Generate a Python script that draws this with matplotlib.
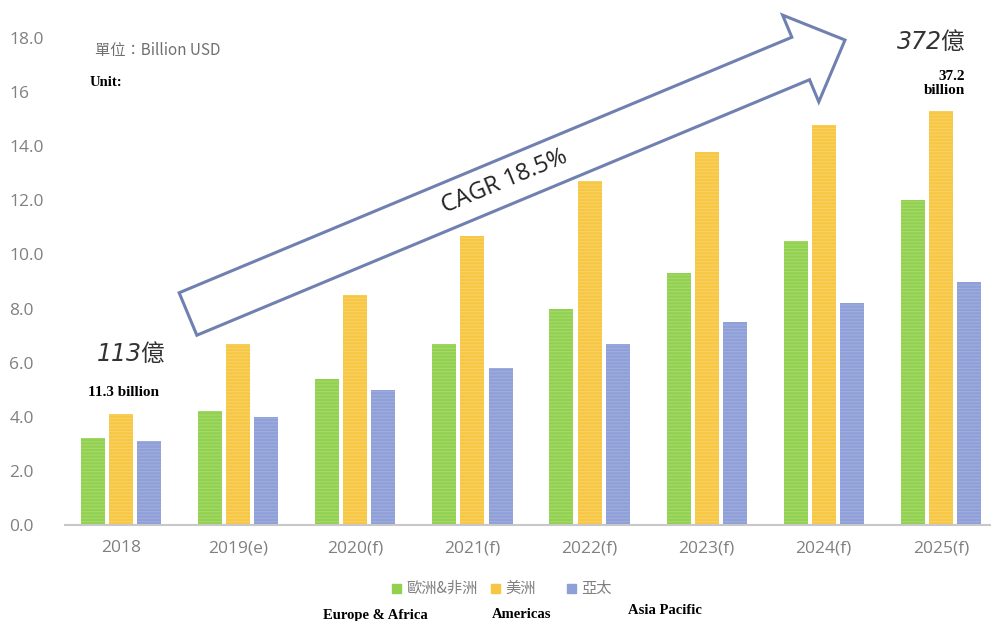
import numpy as np
import matplotlib.pyplot as plt
from matplotlib.patches import Polygon

plt.rcParams['font.family'] = ['Noto Sans CJK TC', 'DejaVu Sans']
plt.rcParams['hatch.linewidth'] = 0.8

# data
years = ["2018", "2019(e)", "2020(f)", "2021(f)", "2022(f)", "2023(f)", "2024(f)", "2025(f)"]
europe_africa = [3.2, 4.2, 5.4, 6.7, 8.0, 9.3, 10.5, 12.0]
americas = [4.1, 6.7, 8.5, 10.7, 12.7, 13.8, 14.8, 15.3]
asia_pacific = [3.1, 4.0, 5.0, 5.8, 6.7, 7.5, 8.2, 9.0]
series_names = ["歐洲&非洲", "美洲", "亞太"]
series_en = ["Europe & Africa", "Americas", "Asia Pacific"]
yticks = [0, 2, 4, 6, 8, 10, 12, 14, 16, 18]
ytick_labels = ["0.0", "2.0", "4.0", "6.0", "8.0", "10.0", "12.0", "14.0", "16", "18.0"]

colors = ["#92d050", "#f7c744", "#8f9fd8"]
stripes = ["#a4da6c", "#f9d266", "#9fadde"]
grey = "#808080"

W, H = 991, 621
fig = plt.figure(figsize=(W/100, H/100), dpi=100)
ax = fig.add_axes([65/W, 1-525/H, 925/W, (525-38)/H])

x = np.arange(len(years))
w = 0.205
step = 0.24
for i, vals in enumerate([europe_africa, americas, asia_pacific]):
    ax.bar(x + (i-1)*step, vals, w, color=colors[i], edgecolor=stripes[i],
           hatch='-----', linewidth=0, zorder=2)

ax.set_xlim(-0.48, 7.42)
ax.set_ylim(0, 18)
ax.set_yticks(yticks)
ax.set_yticklabels(ytick_labels)
ax.set_xticks(x)
ax.set_xticklabels(years)
ax.tick_params(axis='both', length=0, colors=grey, labelsize=12.5)
ax.tick_params(axis='y', pad=40)
for lab in ax.get_yticklabels() + ax.get_xticklabels():
    lab.set_family(['Open Sans', 'DejaVu Sans'])
for lab in ax.get_yticklabels():
    lab.set_ha('left')
ax.tick_params(axis='x', pad=11)
for s in ['top', 'right', 'left']:
    ax.spines[s].set_visible(False)
ax.spines['bottom'].set_color("#c8c8c8")
ax.spines['bottom'].set_linewidth(1.5)

def px(xp, yp):
    return (xp/W, 1-yp/H)

# big CAGR arrow (pixel space)
tail = np.array([188.0, 314.0])
tip = np.array([845.0, 40.0])
d = tip - tail
L = np.hypot(*d)
u = d / L
n = np.array([u[1], -u[0]])
n = -n if n[1] > 0 else n
sw, hw, hl = 23.0, 47.0, 48.0
base = tip - u*hl
pts = [tail + n*sw, base + n*sw, base + n*hw, tip, base - n*hw, base - n*sw, tail - n*sw]
arrow = Polygon([px(*p) for p in pts], closed=True, transform=fig.transFigure,
                facecolor="white", edgecolor="#7080b0", linewidth=2.2, zorder=5)
fig.patches.append(arrow)
ang = np.degrees(np.arctan2(-d[1], d[0]))
fig.text(*px(505, 182), "CAGR 18.5%", rotation=ang, ha='center', va='center',
         fontsize=17, color="#222222", family=['Open Sans', 'DejaVu Sans'], zorder=6)

# annotations
fig.text(*px(95, 51), "單位：Billion USD", fontsize=11, color="#707070", va='center')
fig.text(*px(90, 83), "Unit:", fontsize=10.5, weight='bold', family='Liberation Serif', va='center')
fig.text(*px(131, 354), "113億", fontsize=17, style='italic', color="#333333",
         family=['DejaVu Sans', 'Noto Sans CJK TC'], ha='center', va='center')
fig.text(*px(124, 393), "11.3 billion", fontsize=11, weight='bold', family='Liberation Serif',
         ha='center', va='center')
fig.text(*px(931, 42), "372億", fontsize=17, style='italic', color="#333333",
         family=['DejaVu Sans', 'Noto Sans CJK TC'], ha='center', va='center')
fig.text(*px(965, 84), "37.2\nbillion", fontsize=11, weight='bold', family='Liberation Serif',
         ha='right', va='center', multialignment='right', linespacing=1.1)

# legend
leg_x = [392, 491, 567]
for lx, name, c in zip(leg_x, series_names, colors):
    fig.patches.append(plt.Rectangle(px(lx, 593), 9/W, 9/H, transform=fig.transFigure,
                                     color=c))
    fig.text(*px(lx+14, 588), name, fontsize=11, color=grey, va='center')
for ex, ey, name in zip([375, 522, 665], [615, 614, 611], series_en):
    fig.text(*px(ex, ey), name, fontsize=10.5, weight='bold', family='Liberation Serif',
             ha='center', va='center')

fig.savefig("out.png", dpi=100)
